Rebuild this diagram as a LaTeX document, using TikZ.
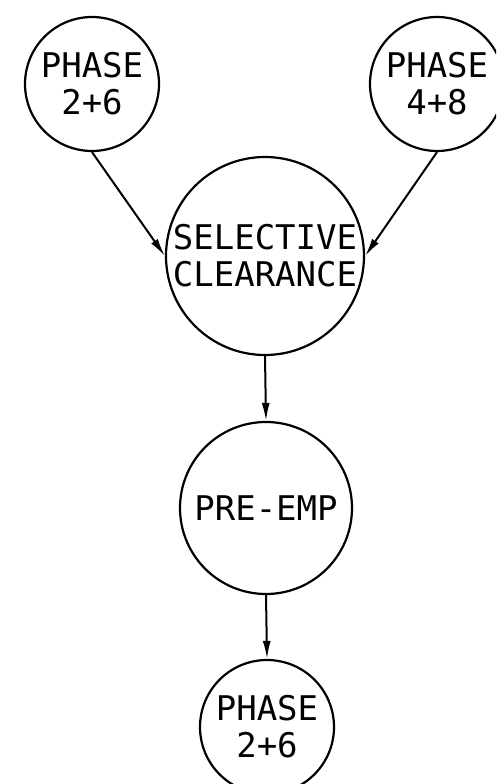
\documentclass[tikz,border=0pt]{standalone}
\usepackage{fontspec}
\setmonofont{DejaVu Sans Mono}
\usetikzlibrary{arrows.meta}
\begin{document}
\begin{tikzpicture}[x=1pt,y=-1pt,
  bub/.style={draw, circle, line width=2.2pt, inner sep=0pt, align=center,
    font=\fontsize{34}{37}\selectfont\ttfamily},
  conn/.style={line width=2pt, -{Latex[length=18pt,width=8pt]}}]
\useasboundingbox (0,0) rectangle (496,784);
\clip (0,0) rectangle (496,784);
\node[bub, minimum size=134pt] (tl) at (92,84) {PHASE\\2+6};
\node[bub, minimum size=134pt] (tr) at (437,84) {PHASE\\4+8};
\node[bub, minimum size=198pt] (sc) at (265,256) {SELECTIVE\\CLEARANCE};
\node[bub, minimum size=172pt] (pe) at (266,508) {PRE-EMP};
\node[bub, minimum size=134pt] (bt) at (267,727) {PHASE\\2+6};
\draw[conn] (tl.south) -- (sc.west);
\draw[conn] (tr.south) -- (sc.east);
\draw[conn] (sc.south) -- (pe.north);
\draw[conn] (pe.south) -- (bt.north);
\end{tikzpicture}
\end{document}
